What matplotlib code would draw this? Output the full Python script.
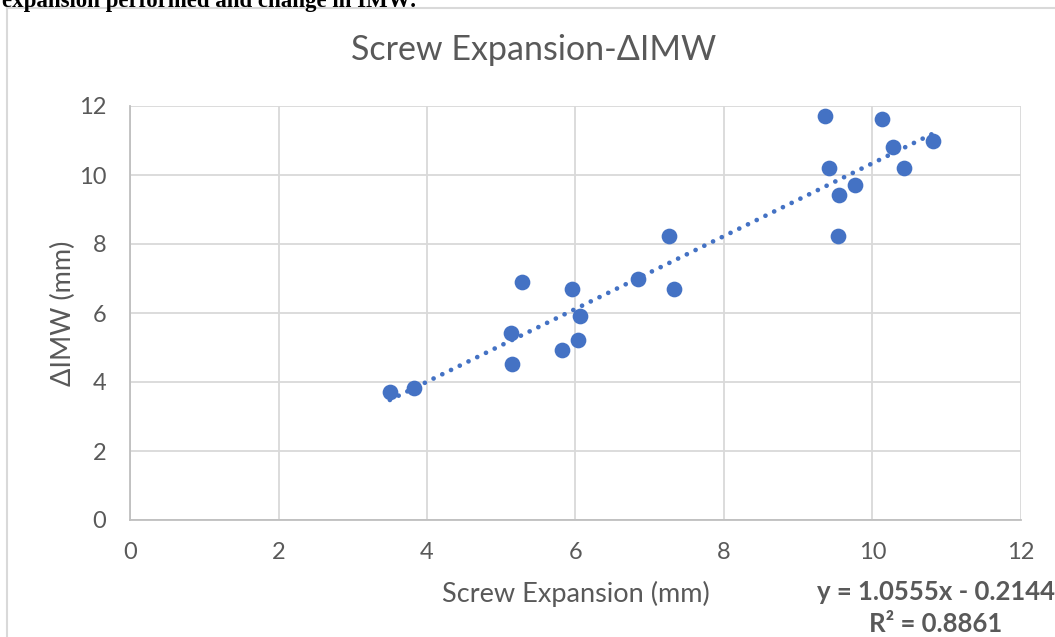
import numpy as np
import matplotlib
matplotlib.use("Agg")
import matplotlib.pyplot as plt
from matplotlib.lines import Line2D

plt.rcParams['font.family'] = ['Lato', 'DejaVu Sans']

# screw expansion (mm) vs change in inter-molar width (mm)
screw_exp = [3.50, 3.82, 5.13, 5.14, 5.28, 5.82, 5.95, 6.03, 6.06, 6.84, 7.26,
             7.33, 9.36, 9.41, 9.55, 9.54, 9.76, 10.13, 10.28, 10.42, 10.81]
delta_imw = [3.71, 3.82, 5.42, 4.51, 6.90, 4.92, 6.71, 5.21, 5.90, 7.00, 8.22,
             6.71, 11.71, 10.21, 9.42, 8.22, 9.71, 11.62, 10.80, 10.21, 11.00]

slope = 1.0555
intercept = -0.2144
r2 = 0.8861

x_ticks = [0, 2, 4, 6, 8, 10, 12]
y_ticks = [0, 2, 4, 6, 8, 10, 12]

blue = '#4472C4'
grey_txt = '#595959'
grid_col = '#D9D9D9'

W, H = 1055, 637
fig = plt.figure(figsize=(W / 100, H / 100), dpi=100)
ax = fig.add_axes([130 / W, 1 - 520 / H, 891 / W, 414 / H])

ax.scatter(screw_exp, delta_imw, s=128, color=blue, zorder=3, linewidths=0)

xs = np.array([min(screw_exp), max(screw_exp)])
ax.plot(xs, slope * xs + intercept, color=blue, lw=3.4,
        linestyle=(0, (0.01, 2.05)), dash_capstyle='round', zorder=2)

ax.set_xlim(0, 12)
ax.set_ylim(0, 12)
ax.set_xticks(x_ticks)
ax.set_yticks(y_ticks)
ax.grid(True, color=grid_col, lw=1.3)
ax.set_axisbelow(True)
for side in ['top', 'right']:
    ax.spines[side].set_visible(False)
for side in ['left', 'bottom']:
    ax.spines[side].set_color('#BFBFBF')
    ax.spines[side].set_linewidth(1.3)
ax.tick_params(length=0, labelsize=17, labelcolor=grey_txt)
ax.tick_params(axis='x', pad=16)
ax.tick_params(axis='y', pad=17)

fig.text(576 / W, 1 - 594 / H, 'Screw Expansion (mm)', ha='center', va='center',
         fontsize=19.5, color=grey_txt)
fig.text(63 / W, 1 - 313 / H, 'ΔIMW (mm)', ha='center', va='center',
         rotation=90, fontsize=19.5, color=grey_txt)

fig.text(534 / W, 1 - 50 / H, 'Screw Expansion-ΔIMW', ha='center', va='center',
         fontsize=24.5, color=grey_txt)

fig.text(936 / W, 1 - 592 / H, f'y = {slope}x - {abs(intercept)}', ha='center',
         va='center', fontsize=18.5, fontweight='bold', color=grey_txt)
fig.text(936 / W, 1 - 624 / H, f'R² = {r2}', ha='center', va='center',
         fontsize=18.5, fontweight='bold', color=grey_txt)

# chart frame
fig.add_artist(Line2D([7 / W, 7 / W], [0, 1 - 8 / H], color=grid_col, lw=1.5,
                      transform=fig.transFigure))
fig.add_artist(Line2D([7 / W, 1], [1 - 8 / H, 1 - 8 / H], color=grid_col, lw=1.5,
                      transform=fig.transFigure))

# heading from the surrounding page, clipped at the top edge
fig.text(2 / W, 1 - 7 / H, 'expansion performed and change in IMW:',
         family='Liberation Serif', fontweight='bold', fontsize=16.5,
         color='black', ha='left', va='baseline')

fig.savefig('out.png', dpi=100)
